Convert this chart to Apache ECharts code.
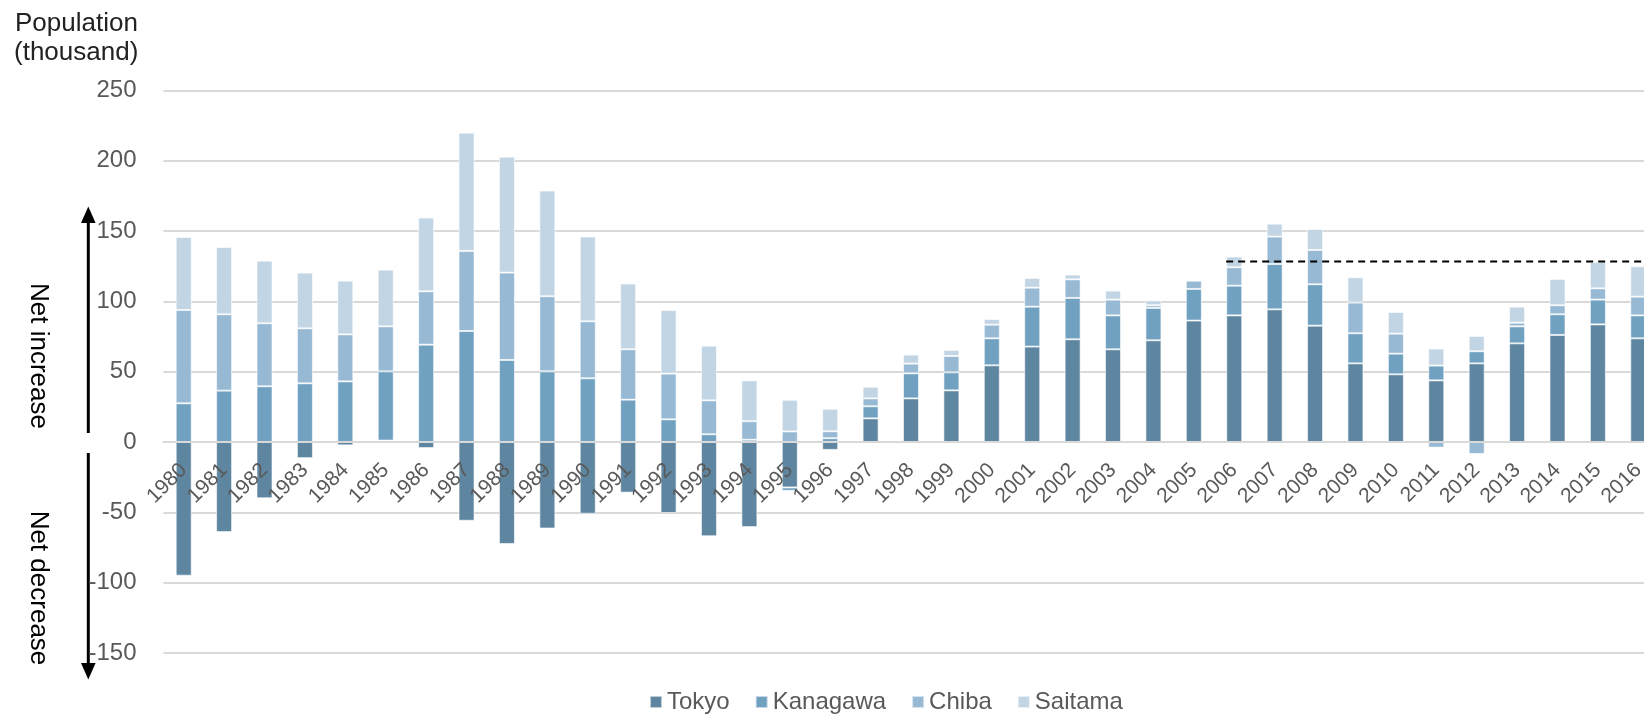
<!DOCTYPE html>
<html>
<head>
<meta charset="utf-8">
<script src="https://cdn.jsdelivr.net/npm/echarts@6/dist/echarts.min.js"></script>
<style>
html,body{margin:0;padding:0;background:#fff;}
#chart{width:1644px;height:714px;}
</style>
</head>
<body>
<div id="chart"></div>
<script>
const years = ['1980','1981','1982','1983','1984','1985','1986','1987','1988','1989','1990','1991','1992','1993','1994','1995','1996','1997','1998','1999','2000','2001','2002','2003','2004','2005','2006','2007','2008','2009','2010','2011','2012','2013','2014','2015','2016'];
const tokyo    = [-95, -64, -40, -11.5, -2.4, 1, -4.3, -56, -72.5, -61.5, -51, -36, -50.5, -67, -60.5, -32.3, -5.6, 16.8, 31, 36.7, 54.5, 67.8, 73, 65.9, 72.3, 86.3, 90, 94.3, 82.7, 55.9, 48.1, 43.8, 55.9, 70.1, 76.1, 83.6, 73.7];
const kanagawa = [27.5, 36.5, 39.6, 41.7, 43.1, 49.2, 69.2, 78.9, 58.3, 50.2, 45.3, 30.1, 16.1, 5.5, 1.6, -2.4, 2.7, 8.6, 17.8, 12.8, 19.2, 28.4, 29.4, 24.1, 23, 22.5, 21.1, 32.2, 29.4, 21.4, 14.7, 10.5, 8.6, 12.1, 14.7, 17.6, 16.3];
const chiba    = [66.3, 54.3, 44.8, 39.1, 33.4, 32, 37.9, 56.9, 62.1, 53.4, 40.5, 35.8, 32.5, 24.1, 13.2, 7.5, 4.9, 5.6, 6.9, 11.6, 9.7, 13.5, 13.2, 11.2, 1.9, 5.9, 13.1, 19.5, 24.4, 21.8, 14.2, -4, -8.5, 2.6, 6.4, 8, 13.3];
const saitama  = [51.9, 47.8, 44.5, 39.6, 38.2, 40.3, 52.4, 84.1, 82.4, 75.1, 60.2, 46.7, 45.2, 38.9, 29, 22.5, 16, 8.3, 6.4, 4.3, 4, 6.9, 3.4, 6.4, 3.5, 0, 7.6, 9.2, 14.9, 18, 15.4, 12.1, 10.9, 11.4, 18.7, 18.8, 21.6];
const seriesNames = ['Tokyo', 'Kanagawa', 'Chiba', 'Saitama'];
const yTicks = {min: -150, max: 250, interval: 50};
// dashed reference level (x in category-index units, y in thousand)
const refLine = [[25.8, 128.3], [36.6, 128.3]];

const colors = ['#5f86a0', '#71a1c1', '#97b9d4', '#c2d5e4'];
const FONT = '"Liberation Sans", Arial, sans-serif';
const TXT = '#595959';

const H = 714;
const gridTop = 90.3, gridBottom = 61;
const gridHeight = H - gridTop - gridBottom;
// move category axis (line + labels) up to the zero level of the value axis
const zeroOffset = -((0 - yTicks.min) / (yTicks.max - yTicks.min)) * gridHeight;

const chart = echarts.init(document.getElementById('chart'), null, {renderer: 'canvas'});

function barSeries(name, data, i) {
  return {
    name: name, type: 'bar', stack: 'total', data: data,
    barWidth: 16,
    itemStyle: {color: colors[i], borderColor: 'rgba(255,255,255,0.6)', borderWidth: 1},
    emphasis: {disabled: true}
  };
}

const option = {
  animation: false,
  grid: {left: 163.5, right: -14.5, top: gridTop, bottom: gridBottom, containLabel: false, outerBoundsMode: 'none'},
  legend: {
    data: seriesNames,
    left: 649, top: 690, padding: 0,
    itemWidth: 12, itemHeight: 12, itemGap: 25,
    icon: 'rect',
    textStyle: {fontSize: 24, color: TXT, fontFamily: FONT}
  },
  xAxis: [{
    type: 'category', data: years, position: 'bottom', offset: zeroOffset, z: 10,
    axisLine: {onZero: false, lineStyle: {color: '#d9d9d9', width: 2}},
    axisTick: {show: false},
    axisLabel: {interval: 0, rotate: 45, fontSize: 21, color: TXT, fontFamily: FONT, margin: 25}
  }, {
    type: 'value', min: -0.5, max: 36.5, show: false
  }],
  yAxis: {
    type: 'value', min: yTicks.min, max: yTicks.max, interval: yTicks.interval,
    axisLine: {show: false, onZero: false}, axisTick: {show: false},
    splitLine: {lineStyle: {color: '#d9d9d9', width: 2}},
    axisLabel: {fontSize: 24, color: TXT, fontFamily: FONT, margin: 27}
  },
  series: [
    barSeries(seriesNames[0], tokyo, 0),
    barSeries(seriesNames[1], kanagawa, 1),
    barSeries(seriesNames[2], chiba, 2),
    barSeries(seriesNames[3], saitama, 3),
    {
      name: 'ref', type: 'line', xAxisIndex: 1, yAxisIndex: 0,
      data: refLine, symbol: 'none', silent: true, z: 5,
      lineStyle: {color: '#000', width: 2, type: [7, 5]}
    }
  ],
  graphic: [
    {type: 'text', x: 15, y: 24, style: {text: 'Population', font: '26px ' + FONT, fill: '#222', align: 'left', verticalAlign: 'middle'}},
    {type: 'text', x: 14, y: 53, style: {text: '(thousand)', font: '26px ' + FONT, fill: '#222', align: 'left', verticalAlign: 'middle'}},
    {type: 'line', shape: {x1: 88.3, y1: 433, x2: 88.3, y2: 218}, style: {stroke: '#000', lineWidth: 3}},
    {type: 'polygon', shape: {points: [[88.3, 206.5], [81, 223], [95.6, 223]]}, style: {fill: '#000'}},
    {type: 'line', shape: {x1: 88.3, y1: 453, x2: 88.3, y2: 668}, style: {stroke: '#000', lineWidth: 3}},
    {type: 'polygon', shape: {points: [[88.3, 679.5], [81, 663], [95.6, 663]]}, style: {fill: '#000'}},
    {type: 'text', x: 38.5, y: 356, rotation: -Math.PI / 2, style: {text: 'Net increase', font: '26px ' + FONT, fill: '#000', align: 'center', verticalAlign: 'middle'}},
    {type: 'text', x: 38.5, y: 588, rotation: -Math.PI / 2, style: {text: 'Net decrease', font: '26px ' + FONT, fill: '#000', align: 'center', verticalAlign: 'middle'}}
  ]
};
chart.setOption(option);
</script>
</body>
</html>
